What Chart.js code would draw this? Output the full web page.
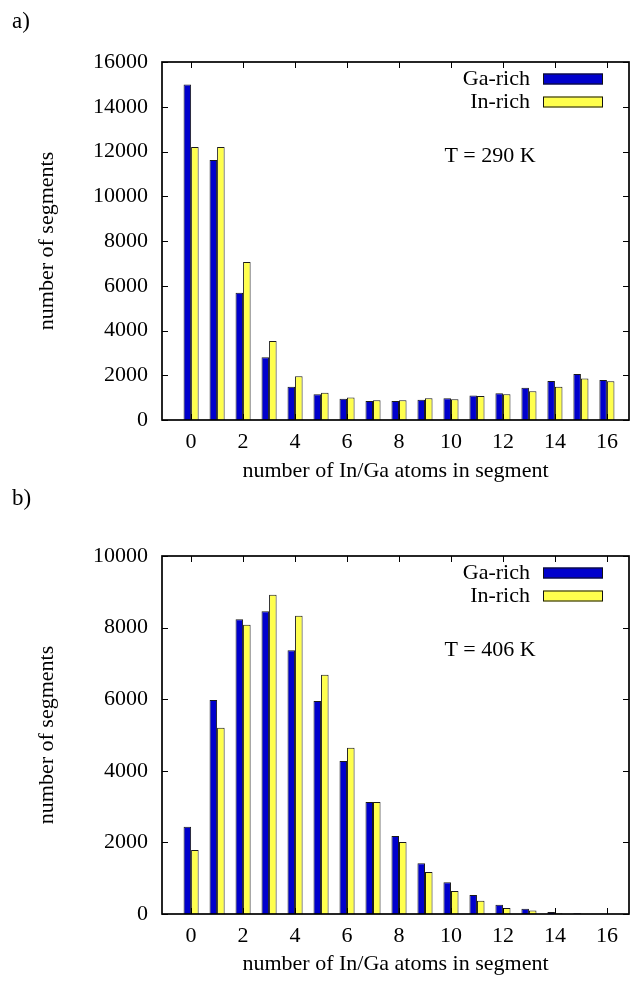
<!DOCTYPE html>
<html><head><meta charset="utf-8">
<script src="https://cdn.jsdelivr.net/npm/chart.js@4.4.1/dist/chart.umd.min.js"></script>
<style>
html,body{margin:0;padding:0;background:#fff;}
#wrap{position:relative;width:634px;height:981px;overflow:hidden;background:#fff;}
canvas{position:absolute;left:0;}
.lbl{position:absolute;font-family:'Liberation Serif','Times New Roman',serif;font-size:23px;line-height:23px;color:#000;}
</style></head><body>
<div id="wrap">
<canvas id="c1" width="634" height="490" style="top:0px"></canvas>
<canvas id="c2" width="634" height="490" style="top:491px"></canvas>
<div class="lbl" style="left:12px;top:9px">a)</div>
<div class="lbl" style="left:12px;top:486px">b)</div>
</div>
<script>
// ---------- data ----------
const atomCounts = [0,1,2,3,4,5,6,7,8,9,10,11,12,13,14,15,16];
const xTickValues = [0,2,4,6,8,10,12,14,16];
const seriesNames = ['Ga-rich','In-rich'];
const gaRich290 = [15000,11620,5690,2800,1490,1150,950,850,850,910,970,1090,1190,1445,1740,2055,1790];
const inRich290 = [12200,12200,7060,3530,1950,1220,1010,880,880,970,925,1070,1150,1280,1490,1860,1730];
const gaRich406 = [2440,5980,8230,8460,7365,5950,4275,3130,2180,1415,885,530,260,150,55,20,5];
const inRich406 = [1790,5205,8080,8920,8330,6685,4645,3130,2010,1175,640,370,170,95,20,8,2];
const yTicks290 = [0,2000,4000,6000,8000,10000,12000,14000,16000];
const yTicks406 = [0,2000,4000,6000,8000,10000];
const tempLabels = ['T = 290 K','T = 406 K'];
const xTitle = 'number of In/Ga atoms in segment';
const yTitle = 'number of segments';

// ---------- styling ----------
const FONT = "'Liberation Serif','Times New Roman',serif";
Chart.defaults.font.family = FONT;
Chart.defaults.font.size = 22;
Chart.defaults.color = '#000';
const BLUE = '#0000cc';
const YELLOW = '#ffff4d';

const framePlugin = {
  id: 'frame',
  afterDatasetsDraw(chart, args, opts) {
    const {ctx, chartArea: a, scales} = chart;
    ctx.save();
    ctx.strokeStyle = '#000';
    ctx.lineWidth = 1;
    const line = (x1,y1,x2,y2) => { ctx.beginPath(); ctx.moveTo(x1,y1); ctx.lineTo(x2,y2); ctx.stroke(); };
    for (const v of opts.xTicks) {
      const px = Math.round(scales.x.getPixelForValue(v)) + 0.5;
      line(px, a.bottom, px, a.bottom - 6);
      line(px, a.top, px, a.top + 6);
    }
    for (const v of opts.yTicks) {
      const py = Math.round(scales.y.getPixelForValue(v)) + 0.5;
      line(a.left, py, a.left + 6, py);
      line(a.right, py, a.right - 6, py);
    }
    ctx.lineWidth = 1.7;
    ctx.strokeRect(a.left, a.top, a.right - a.left, a.bottom - a.top);
    // legend
    ctx.font = '22px ' + FONT;
    ctx.textBaseline = 'middle';
    chart.data.datasets.forEach((ds, i) => {
      const y = a.top + 17 + 23 * i;
      ctx.fillStyle = '#000';
      ctx.textAlign = 'right';
      ctx.fillText(ds.label, a.right - 99, y);
      ctx.fillStyle = ds.backgroundColor;
      ctx.fillRect(a.right - 86, y - 5.5, 60, 11);
      ctx.lineWidth = 1;
      ctx.strokeStyle = '#111';
      ctx.strokeRect(a.right - 86 + 0.5, y - 5.5 + 0.5, 59, 10);
    });
    ctx.fillStyle = '#000';
    ctx.textAlign = 'center';
    ctx.fillText(opts.tempLabel, a.left + 328, a.top + 94);
    ctx.restore();
  }
};

function makeChart(id, ga, inr, yTicks, yMax, temp, padTop, xHeight, xTitlePad) {
  const ds = (label, vals, color) => ({
    label,
    data: atomCounts.map((n, i) => ({x: n, y: vals[i]})),
    backgroundColor: color,
    borderColor: '#1a1a1a',
    borderWidth: 1,
    categoryPercentage: 0.58,
    barPercentage: 1.0
  });
  return new Chart(document.getElementById(id), {
    type: 'bar',
    data: {
      datasets: [ds(seriesNames[0], ga, BLUE), ds(seriesNames[1], inr, YELLOW)]
    },
    options: {
      responsive: false,
      animation: false,
      devicePixelRatio: 1,
      layout: {padding: {top: padTop, right: 5, left: 0, bottom: 0}},
      plugins: {
        legend: {display: false},
        tooltip: {enabled: false},
        frame: {xTicks: xTickValues, yTicks: yTicks, tempLabel: temp}
      },
      scales: {
        x: {
          type: 'linear',
          offset: false,
          min: -1.12,
          max: 16.85,
          grid: {display: false, drawTicks: false},
          border: {display: false},
          afterBuildTicks: s => { s.ticks = xTickValues.map(v => ({value: v})); },
          afterFit: s => { s.height = xHeight; },
          ticks: {padding: 9, maxRotation: 0, font: {size: 22}, color: '#000', callback: v => String(v)},
          title: {display: true, text: xTitle, font: {size: 22}, color: '#000', padding: {top: 0, bottom: xTitlePad}}
        },
        y: {
          min: 0,
          max: yMax,
          grid: {display: false, drawTicks: false},
          border: {display: false},
          afterBuildTicks: s => { s.ticks = yTicks.map(v => ({value: v})); },
          afterFit: s => { s.width = 162; },
          ticks: {padding: 14, font: {size: 22}, color: '#000', callback: v => String(v)},
          title: {display: true, text: yTitle, font: {size: 22}, color: '#000', padding: {top: 34, bottom: 0}}
        }
      }
    },
    plugins: [framePlugin]
  });
}

makeChart('c1', gaRich290, inRich290, yTicks290, 16000, tempLabels[0], 62, 70, 6);
makeChart('c2', gaRich406, inRich406, yTicks406, 10000, tempLabels[1], 65, 67, 4);
</script>
</body></html>
